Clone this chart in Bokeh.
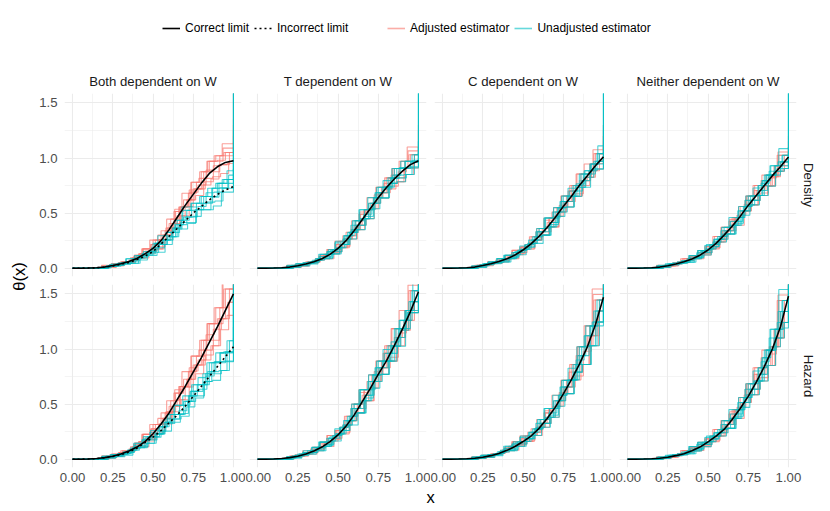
from bokeh.plotting import figure
from bokeh.layouts import row, column
from bokeh.models import (Range1d, FixedTicker, NumeralTickFormatter, Title,
                          Legend, LegendItem, Label)
from bokeh.embed import file_html
from bokeh.resources import INLINE

FONT = "Liberation Sans"
RED = "#F8766D"
CYAN = "#00BFC4"
EST_ALPHA = 0.7
DOTTED = "2 3"

COLUMNS = ["Both dependent on W", "T dependent on W", "C dependent on W", "Neither dependent on W"]
ROWS = ["Density", "Hazard"]
X_TICKS = [0.0, 0.25, 0.5, 0.75, 1.0]
X_MINOR = [0.125, 0.375, 0.625, 0.875]
Y_TICKS = [0.0, 0.5, 1.0, 1.5]
Y_MINOR = [0.25, 0.75, 1.25]

# ---- limit curves (at x = 0, 0.05, ..., 1) ----
LIMIT_X = [0.00, 0.05, 0.10, 0.15, 0.20, 0.25, 0.30, 0.35, 0.40, 0.45, 0.50,
           0.55, 0.60, 0.65, 0.70, 0.75, 0.80, 0.85, 0.90, 0.95, 1.00]
DENS_CORRECT = [
    [0, 0, .001, .004, .011, .024, .040, .060, .088, .13, .18, .25, .35, .46, .57, .67, .77, .86, .92, .96, .975],
    [0, 0, .001, .004, .010, .022, .038, .058, .085, .125, .18, .25, .34, .44, .54, .64, .73, .81, .88, .94, .975],
    [0, 0, .001, .004, .010, .024, .040, .060, .085, .12, .165, .22, .29, .37, .46, .56, .65, .75, .84, .93, 1.01],
    [0, 0, .001, .004, .010, .022, .038, .058, .083, .118, .165, .225, .30, .38, .47, .57, .66, .75, .84, .92, 1.01],
]
DENS_INCORRECT = [0, 0, .001, .004, .010, .020, .035, .052, .078, .11, .15, .22, .29, .36, .43, .50, .56, .62, .67, .71, .74]
HAZ_CORRECT = [
    [0, 0, .002, .006, .014, .027, .047, .075, .11, .16, .23, .32, .42, .54, .66, .79, .92, 1.06, 1.2, 1.35, 1.5],
    [0, 0, .002, .006, .014, .027, .047, .075, .11, .16, .22, .30, .40, .52, .64, .77, .89, 1.03, 1.18, 1.34, 1.52],
    [0, 0, .001, .004, .009, .018, .032, .052, .08, .115, .16, .21, .28, .37, .47, .59, .72, .86, 1.02, 1.22, 1.47],
    [0, 0, .001, .004, .009, .018, .032, .05, .077, .11, .157, .21, .27, .36, .46, .57, .70, .84, 1.0, 1.2, 1.48],
]
HAZ_INCORRECT = [0, 0, .002, .005, .013, .024, .04, .065, .10, .15, .20, .26, .33, .40, .48, .57, .66, .75, .84, .93, 1.02]

# ---- jump locations of the step estimates ----
GRID_A = [0.00, 0.20, 0.25, 0.30, 0.35, 0.40, 0.45, 0.50, 0.55, 0.60, 0.65, 0.70, 0.75, 0.80, 0.85, 0.90, 0.95, 1.00]
GRID_B = [0.00, 0.22, 0.27, 0.32, 0.37, 0.42, 0.47, 0.52, 0.57, 0.62, 0.67, 0.72, 0.77, 0.82, 0.87, 0.92, 0.97, 1.00]
GRID_C = [0.00, 0.18, 0.23, 0.28, 0.33, 0.38, 0.43, 0.48, 0.53, 0.58, 0.63, 0.68, 0.73, 0.78, 0.83, 0.88, 0.93, 1.00]
GRID_D = [0.00, 0.21, 0.26, 0.31, 0.36, 0.41, 0.46, 0.51, 0.56, 0.61, 0.66, 0.71, 0.76, 0.81, 0.86, 0.91, 0.96, 1.00]
GRID_E = [0.00, 0.19, 0.24, 0.29, 0.34, 0.39, 0.44, 0.49, 0.54, 0.59, 0.64, 0.69, 0.74, 0.79, 0.84, 0.89, 0.94, 1.00]
GRID_F = [0.00, 0.215, 0.265, 0.315, 0.365, 0.415, 0.465, 0.515, 0.565, 0.615, 0.665, 0.715, 0.765, 0.815, 0.865, 0.915, 0.965, 1.00]
GRID_G = [0.00, 0.185, 0.235, 0.285, 0.335, 0.385, 0.435, 0.485, 0.535, 0.585, 0.635, 0.685, 0.735, 0.785, 0.835, 0.885, 0.935, 1.00]
GRID_H = [0.00, 0.225, 0.275, 0.325, 0.375, 0.425, 0.475, 0.525, 0.575, 0.625, 0.675, 0.725, 0.775, 0.825, 0.875, 0.925, 0.975, 1.00]
GRIDS = [GRID_A, GRID_B, GRID_C, GRID_D, GRID_E, GRID_F, GRID_G, GRID_H]

# ---- step estimates: Density row (one list of curves per column) ----
DENS_ADJ = [
    [[0, .017, .042, .06, .074, .09, .155, .255, .34, .405, .475, .56, .72, .875, .97, .98, 1.05, 1.7],
     [0, .007, .022, .05, .094, .13, .155, .175, .26, .405, .555, .68, .78, .815, .83, .86, .97, 1.05],
     [0, .027, .032, .04, .054, .11, .175, .255, .30, .365, .515, .68, .69, .755, .89, 1.02, 1.13, 1.3],
     [0, .017, .032, .06, .094, .13, .135, .175, .30, .445, .555, .62, .72, .755, .81, .94, .95, 1.0],
     [0, .007, .042, .05, .054, .11, .175, .215, .26, .365, .515, .62, .78, .875, .97, 1.02, 1.05, 1.2],
     [0, .017, .022, .055, .074, .13, .145, .255, .30, .365, .555, .62, .66, .875, .875, 1.02, 1.02, 1.25],
     [0, .022, .032, .05, .054, .12, .175, .215, .26, .445, .535, .56, .78, .815, .97, .97, 1.09, 1.35],
     [0, .012, .037, .05, .094, .094, .155, .195, .34, .405, .475, .71, .72, .785, .93, .94, 1.05, 1.15]],
    [[0, .016, .04, .058, .072, .085, .15, .245, .325, .39, .45, .54, .685, .82, .905, .91, 1.03, 1.1],
     [0, .006, .02, .048, .087, .125, .15, .185, .265, .39, .53, .64, .735, .77, .785, .85, .96, 1.0],
     [0, .026, .03, .038, .057, .105, .17, .245, .295, .35, .49, .64, .64, .72, .845, .97, 1.1, 1.3],
     [0, .016, .03, .058, .087, .125, .13, .185, .295, .43, .53, .59, .685, .72, .785, .91, .91, 0.95],
     [0, .006, .04, .048, .057, .105, .17, .215, .265, .35, .49, .59, .735, .82, .905, .97, 1.03, 1.1],
     [0, .016, .02, .053, .072, .125, .14, .245, .295, .35, .53, .59, .635, .82, .82, .97, .97, 1.05],
     [0, .021, .03, .048, .057, .115, .17, .215, .265, .43, .51, .54, .735, .77, .905, .905, 1.065, 1.25],
     [0, .011, .035, .048, .087, .087, .15, .20, .325, .39, .45, .665, .685, .745, .875, .91, 1.03, 1.1]],
    [[0, .027, .027, .05, .087, .102, .122, .192, .285, .36, .415, .47, .605, .75, .795, .825, 1.04, 1.2],
     [0, .017, .042, .042, .072, .117, .162, .172, .255, .36, .375, .51, .655, .655, .795, .945, .97, 1.05],
     [0, .007, .032, .06, .072, .087, .162, .192, .225, .33, .455, .51, .555, .70, .855, .945, .95, 1.15],
     [0, .027, .042, .05, .057, .102, .142, .212, .255, .30, .455, .55, .605, .65, .855, .885, .9, 1.0],
     [0, .017, .022, .04, .087, .117, .142, .192, .285, .33, .375, .55, .655, .75, .75, .825, 1.04, 1.25],
     [0, .017, .022, .055, .072, .117, .132, .212, .255, .30, .455, .51, .555, .75, .75, .945, .97, 1.1],
     [0, .022, .032, .05, .057, .11, .162, .192, .225, .36, .435, .47, .655, .70, .855, .855, 1.075, 1.3],
     [0, .012, .037, .05, .087, .087, .142, .182, .285, .33, .375, .57, .605, .675, .825, .885, 1.04, 1.2]],
    [[0, .006, .02, .048, .085, .115, .14, .175, .237, .34, .46, .56, .655, .705, .745, .83, .965, 1.05],
     [0, .016, .03, .058, .085, .115, .12, .175, .262, .37, .46, .52, .615, .66, .745, .88, .905, 0.95],
     [0, .026, .026, .048, .085, .10, .12, .195, .287, .37, .425, .48, .615, .75, .795, .83, 1.025, 1.15],
     [0, .006, .03, .058, .07, .085, .16, .195, .237, .34, .46, .52, .575, .705, .845, .93, .93, 1.0],
     [0, .016, .02, .038, .085, .115, .14, .195, .287, .34, .39, .56, .655, .75, .75, .83, 1.025, 1.1],
     [0, .016, .02, .053, .07, .115, .13, .215, .262, .31, .46, .52, .575, .75, .75, .93, .965, 1.05],
     [0, .021, .03, .048, .055, .108, .16, .195, .237, .37, .443, .48, .655, .705, .845, .845, 1.055, 1.2],
     [0, .011, .035, .048, .085, .085, .14, .185, .287, .34, .39, .58, .615, .683, .82, .88, 1.025, 1.1]],
]
DENS_UNADJ = [
    [[0, .025, .028, .034, .045, .094, .15, .225, .255, .285, .395, .525, .53, .53, .645, .77, .885, 1.8],
     [0, .005, .038, .044, .045, .094, .15, .185, .215, .285, .395, .465, .59, .65, .725, .77, .805, 0.9],
     [0, .015, .038, .054, .065, .074, .13, .225, .295, .325, .355, .405, .53, .65, .725, .73, .805, 1.1],
     [0, .005, .018, .044, .085, .114, .13, .145, .215, .325, .435, .525, .59, .59, .6, .61, .725, 0.85],
     [0, .015, .028, .054, .085, .114, .115, .145, .255, .365, .435, .465, .53, .53, .565, .69, .69, 1.8],
     [0, .015, .018, .049, .065, .114, .12, .225, .255, .285, .435, .465, .47, .65, .65, .77, .77, 0.95],
     [0, .02, .028, .044, .045, .104, .15, .185, .215, .365, .415, .415, .59, .59, .725, .725, .845, 1.8],
     [0, .01, .033, .044, .085, .085, .13, .165, .295, .325, .355, .555, .555, .56, .685, .69, .805, 0.9]],
    [[0, .026, .027, .048, .087, .105, .13, .215, .325, .43, .49, .54, .685, .82, .845, .85, 1.03, 1.8],
     [0, .016, .04, .04, .072, .125, .17, .185, .295, .43, .45, .59, .735, .74, .845, .97, .97, 1.05],
     [0, .006, .03, .058, .072, .085, .17, .215, .265, .39, .53, .59, .635, .77, .905, .97, .98, 1.0],
     [0, .026, .04, .048, .057, .105, .15, .245, .295, .35, .53, .64, .685, .72, .905, .91, .92, 1.8],
     [0, .016, .02, .038, .087, .125, .15, .215, .325, .39, .45, .64, .735, .82, .82, .85, 1.03, 1.15],
     [0, .016, .04, .043, .072, .085, .16, .185, .295, .43, .45, .59, .735, .735, .905, .905, .96, 1.8],
     [0, .011, .03, .048, .087, .095, .13, .215, .325, .35, .47, .64, .64, .77, .785, .97, .97, 1.05],
     [0, .021, .025, .048, .057, .125, .15, .23, .265, .39, .53, .53, .685, .795, .815, .91, .91, 1.15]],
    [[0, .017, .042, .06, .072, .087, .142, .212, .285, .33, .375, .47, .605, .75, .855, .885, 1.04, 1.8],
     [0, .007, .022, .05, .087, .117, .142, .172, .225, .33, .455, .55, .655, .70, .735, .825, .97, 1.1],
     [0, .027, .032, .04, .057, .102, .162, .212, .255, .30, .415, .55, .555, .65, .795, .945, 1.11, 1.3],
     [0, .017, .032, .06, .087, .117, .122, .172, .255, .36, .455, .51, .605, .65, .735, .885, .9, 1.0],
     [0, .007, .042, .05, .057, .102, .162, .192, .225, .30, .415, .51, .655, .75, .855, .945, 1.04, 1.8],
     [0, .017, .042, .045, .072, .087, .152, .172, .255, .36, .375, .51, .655, .655, .855, .855, .97, 1.8],
     [0, .012, .032, .05, .087, .095, .122, .192, .285, .30, .395, .55, .555, .70, .735, .945, .945, 1.05],
     [0, .022, .027, .05, .057, .117, .142, .202, .225, .33, .455, .455, .605, .725, .765, .885, .90, 1.0]],
    [[0, .016, .04, .058, .07, .085, .14, .215, .287, .34, .39, .48, .615, .75, .845, .88, 1.025, 1.8],
     [0, .026, .03, .038, .055, .10, .16, .215, .262, .31, .425, .56, .575, .66, .795, .93, 1.085, 1.1],
     [0, .006, .04, .048, .055, .10, .16, .195, .237, .31, .425, .52, .655, .75, .845, .93, 1.025, 1.8],
     [0, .016, .04, .04, .07, .115, .16, .175, .262, .37, .39, .52, .655, .66, .795, .93, .965, 1.0],
     [0, .026, .04, .048, .055, .10, .14, .215, .262, .31, .46, .56, .615, .66, .845, .88, .905, 1.05],
     [0, .016, .04, .043, .07, .085, .15, .175, .262, .37, .39, .52, .655, .66, .845, .845, .965, 1.8],
     [0, .011, .03, .048, .085, .093, .12, .195, .287, .31, .408, .56, .575, .705, .745, .93, .93, 1.0],
     [0, .021, .025, .048, .055, .115, .14, .205, .237, .34, .46, .46, .615, .728, .77, .88, .905, 1.05]],
]

# ---- step estimates: Hazard row (one list of curves per column) ----
HAZ_ADJ = [
    [[0, .02, .047, .076, .092, .11, .195, .315, .42, .48, .54, .655, .855, 1.08, 1.23, 1.275, 1.545, 1.8],
     [0, .01, .027, .061, .112, .16, .195, .235, .32, .48, .66, .795, .935, .99, 1.03, 1.175, 1.425, 1.6],
     [0, .03, .037, .046, .072, .135, .225, .315, .37, .43, .60, .795, .80, .9, 1.13, 1.375, 1.665, 1.8],
     [0, .02, .037, .076, .112, .16, .165, .235, .37, .53, .66, .725, .855, .9, 1.03, 1.275, 1.305, 1.5],
     [0, .01, .047, .061, .072, .135, .225, .275, .32, .43, .60, .725, .935, 1.08, 1.23, 1.375, 1.545, 1.8],
     [0, .02, .027, .069, .092, .16, .18, .315, .37, .43, .66, .725, .775, 1.08, 1.08, 1.375, 1.425, 1.8],
     [0, .025, .037, .061, .072, .148, .225, .275, .32, .53, .63, .655, .935, .99, 1.23, 1.23, 1.605, 1.8],
     [0, .015, .042, .061, .112, .112, .195, .255, .42, .48, .54, .83, .855, .945, 1.18, 1.275, 1.545, 1.7]],
    [[0, .03, .03, .061, .107, .135, .165, .26, .39, .50, .58, .645, .83, 1.03, 1.105, 1.17, 1.53, 1.8],
     [0, .02, .047, .047, .092, .155, .215, .23, .35, .50, .53, .705, .89, .89, 1.105, 1.35, 1.43, 1.6],
     [0, .01, .037, .076, .092, .115, .215, .26, .31, .46, .63, .705, .77, .96, 1.185, 1.35, 1.35, 1.5],
     [0, .03, .047, .061, .077, .135, .19, .29, .35, .42, .63, .765, .83, .89, 1.185, 1.26, 1.33, 1.45],
     [0, .02, .027, .046, .107, .155, .19, .26, .39, .46, .53, .765, .89, 1.03, 1.03, 1.17, 1.53, 1.8],
     [0, .02, .027, .069, .092, .155, .178, .29, .35, .42, .63, .705, .77, 1.03, 1.03, 1.35, 1.43, 1.8],
     [0, .025, .037, .061, .077, .145, .215, .26, .31, .50, .605, .645, .89, .96, 1.185, 1.185, 1.58, 1.8],
     [0, .015, .042, .061, .107, .115, .19, .245, .39, .46, .53, .795, .83, .925, 1.145, 1.26, 1.53, 1.6]],
    [[0, .014, .035, .052, .066, .078, .138, .21, .275, .325, .38, .48, .655, .86, 1.02, 1.12, 1.445, 1.7],
     [0, .006, .015, .042, .081, .118, .138, .16, .215, .325, .46, .58, .715, .79, .86, 1.03, 1.345, 1.5],
     [0, .022, .025, .032, .051, .098, .158, .21, .245, .29, .42, .58, .595, .72, .94, 1.21, 1.545, 1.8],
     [0, .014, .025, .052, .081, .118, .118, .16, .245, .36, .46, .53, .655, .72, .86, 1.12, 1.245, 1.4],
     [0, .006, .035, .042, .051, .098, .158, .185, .215, .29, .42, .53, .715, .86, 1.02, 1.21, 1.445, 1.6],
     [0, .014, .015, .047, .066, .118, .128, .21, .245, .29, .46, .53, .595, .86, .86, 1.21, 1.345, 1.7],
     [0, .018, .025, .042, .051, .108, .158, .185, .215, .36, .44, .48, .715, .79, 1.02, 1.03, 1.495, 1.8],
     [0, .01, .03, .042, .081, .081, .138, .173, .275, .325, .38, .605, .655, .755, .98, 1.12, 1.445, 1.55]],
    [[0, .006, .015, .041, .079, .114, .134, .159, .21, .315, .45, .56, .685, .77, .85, 1.02, 1.34, 1.5],
     [0, .014, .025, .051, .079, .114, .114, .159, .24, .35, .45, .515, .635, .71, .85, 1.1, 1.24, 1.4],
     [0, .022, .022, .041, .079, .094, .114, .184, .27, .35, .41, .47, .635, .83, .92, 1.02, 1.44, 1.7],
     [0, .006, .025, .051, .064, .074, .154, .184, .21, .315, .45, .515, .585, .77, .99, 1.18, 1.24, 1.45],
     [0, .014, .015, .031, .079, .114, .134, .184, .27, .315, .37, .56, .685, .83, .85, 1.02, 1.44, 1.6],
     [0, .014, .015, .046, .064, .114, .124, .209, .24, .28, .45, .515, .585, .83, .85, 1.18, 1.34, 1.6],
     [0, .018, .025, .041, .049, .104, .154, .184, .21, .35, .43, .47, .685, .77, .99, 1.02, 1.49, 1.8],
     [0, .01, .03, .041, .079, .079, .134, .172, .27, .315, .37, .583, .635, .74, .955, 1.1, 1.44, 1.55]],
]
HAZ_UNADJ = [
    [[0, .028, .028, .052, .102, .125, .145, .23, .335, .405, .44, .475, .615, .775, .795, .805, 1.075, 1.8],
     [0, .018, .042, .042, .082, .145, .205, .205, .295, .405, .405, .525, .675, .675, .795, .965, .975, 1.3],
     [0, .008, .032, .067, .082, .105, .205, .23, .255, .365, .49, .525, .555, .705, .875, .965, .97, 1.8],
     [0, .028, .042, .052, .062, .125, .175, .26, .295, .325, .49, .575, .615, .635, .875, .885, .89, 1.2],
     [0, .018, .022, .037, .102, .145, .175, .23, .335, .365, .39, .575, .675, .775, .775, .805, 1.075, 1.5],
     [0, .018, .042, .045, .082, .105, .19, .20, .295, .405, .405, .525, .675, .675, .875, .875, .975, 1.5],
     [0, .013, .032, .052, .102, .115, .145, .23, .335, .335, .415, .575, .575, .705, .715, .965, .965, 1.8],
     [0, .023, .027, .052, .062, .145, .175, .245, .255, .365, .49, .49, .615, .74, .755, .885, .885, 1.1]],
    [[0, .02, .047, .076, .092, .115, .19, .29, .39, .46, .53, .645, .83, 1.03, 1.185, 1.26, 1.53, 1.8],
     [0, .01, .027, .061, .107, .155, .19, .23, .31, .46, .63, .765, .89, .96, 1.025, 1.17, 1.43, 1.55],
     [0, .03, .037, .046, .077, .135, .215, .29, .35, .42, .58, .765, .77, .89, 1.105, 1.35, 1.63, 1.8],
     [0, .02, .037, .076, .107, .155, .165, .23, .35, .50, .63, .705, .83, .89, 1.025, 1.26, 1.33, 1.45],
     [0, .01, .047, .061, .077, .135, .215, .26, .31, .42, .58, .705, .89, 1.03, 1.185, 1.35, 1.53, 1.7],
     [0, .02, .047, .054, .092, .115, .203, .23, .35, .50, .53, .705, .89, .89, 1.185, 1.185, 1.43, 1.7],
     [0, .015, .037, .061, .107, .125, .165, .26, .39, .42, .555, .765, .77, .96, 1.025, 1.35, 1.35, 1.8],
     [0, .025, .032, .061, .077, .155, .19, .275, .31, .46, .63, .63, .83, .995, 1.065, 1.26, 1.33, 1.5]],
    [[0, .022, .022, .042, .081, .098, .118, .185, .275, .36, .42, .48, .655, .86, .94, 1.03, 1.445, 1.8],
     [0, .014, .035, .035, .066, .118, .158, .16, .245, .36, .38, .53, .715, .72, .94, 1.21, 1.345, 1.5],
     [0, .006, .025, .052, .066, .078, .158, .185, .215, .325, .46, .53, .595, .79, 1.02, 1.21, 1.245, 1.45],
     [0, .022, .035, .042, .051, .098, .138, .21, .245, .29, .46, .58, .655, .72, 1.02, 1.12, 1.245, 1.6],
     [0, .014, .015, .032, .081, .118, .138, .185, .275, .325, .38, .58, .715, .86, .86, 1.03, 1.445, 1.8],
     [0, .014, .035, .037, .066, .078, .148, .16, .245, .36, .38, .53, .715, .72, 1.02, 1.03, 1.345, 1.5],
     [0, .01, .025, .042, .081, .088, .118, .185, .275, .29, .40, .58, .595, .79, .86, 1.21, 1.21, 1.8],
     [0, .018, .02, .042, .051, .118, .138, .198, .215, .325, .46, .46, .655, .825, .90, 1.12, 1.245, 1.4]],
    [[0, .014, .035, .051, .064, .074, .134, .209, .27, .315, .37, .47, .635, .83, .99, 1.1, 1.44, 1.7],
     [0, .022, .025, .031, .049, .094, .154, .209, .24, .28, .41, .56, .585, .71, .92, 1.18, 1.54, 1.8],
     [0, .006, .035, .041, .049, .094, .154, .184, .21, .28, .41, .515, .685, .83, .99, 1.18, 1.44, 1.6],
     [0, .014, .035, .035, .064, .114, .154, .159, .24, .35, .37, .515, .685, .71, .92, 1.18, 1.34, 1.5],
     [0, .022, .035, .041, .049, .094, .134, .209, .24, .28, .45, .56, .635, .71, .99, 1.1, 1.24, 1.45],
     [0, .014, .035, .036, .064, .074, .144, .159, .24, .35, .37, .515, .685, .71, .99, 1.02, 1.34, 1.5],
     [0, .01, .025, .041, .079, .084, .114, .184, .27, .28, .39, .56, .585, .77, .85, 1.18, 1.19, 1.7],
     [0, .018, .02, .041, .049, .114, .134, .197, .21, .315, .45, .45, .635, .80, .885, 1.1, 1.24, 1.45]],
]

ADJ = [DENS_ADJ, HAZ_ADJ]
UNADJ = [DENS_UNADJ, HAZ_UNADJ]
CORRECT = [DENS_CORRECT, HAZ_CORRECT]
INCORRECT = [DENS_INCORRECT, HAZ_INCORRECT]

FRAME_W, FRAME_H = 177, 183
GRID_COLOR = "#EBEBEB"


def style_axis(ax, fmt, ticks, standoff):
    ax.ticker = FixedTicker(ticks=ticks)
    ax.formatter = NumeralTickFormatter(format=fmt)
    ax.axis_line_color = None
    ax.major_tick_line_color = None
    ax.minor_tick_line_color = None
    ax.major_tick_out = 0
    ax.major_tick_in = 0
    ax.minor_tick_out = 0
    ax.minor_tick_in = 0
    ax.major_label_text_font = FONT
    ax.major_label_text_font_size = "13.2px"
    ax.major_label_text_color = "#4D4D4D"
    ax.major_label_standoff = standoff


def make_panel(r, c):
    p = figure(frame_width=FRAME_W, frame_height=FRAME_H,
               x_range=Range1d(-0.05, 1.05), y_range=Range1d(-0.0755, 1.5855),
               x_axis_location="below" if r == 1 else None,
               y_axis_location="left" if c == 0 else None,
               toolbar_location=None, output_backend="svg",
               min_border_left=34 if c == 0 else 4,
               min_border_right=25 if c == 3 else 4,
               min_border_top=28 if r == 0 else 4,
               min_border_bottom=22 if r == 1 else 4,
               outline_line_color=None,
               background_fill_color="white", border_fill_color="white")
    p.xgrid.ticker = FixedTicker(ticks=X_TICKS, minor_ticks=X_MINOR)
    p.ygrid.ticker = FixedTicker(ticks=Y_TICKS, minor_ticks=Y_MINOR)
    for g in (p.xgrid, p.ygrid):
        g.grid_line_color = GRID_COLOR
        g.grid_line_width = 1.1
        g.minor_grid_line_color = GRID_COLOR
        g.minor_grid_line_width = 0.55
    if r == 1:
        style_axis(p.xaxis[0], "0.00", X_TICKS, 5)
    if c == 0:
        style_axis(p.yaxis[0], "0.0", Y_TICKS, 7)

    for k, vals in enumerate(ADJ[r][c]):
        p.step(GRIDS[k], vals, mode="after", line_color=RED, line_alpha=EST_ALPHA, line_width=1.1)
    for k, vals in enumerate(UNADJ[r][c]):
        p.step(GRIDS[(k + 3) % 8], vals, mode="after", line_color=CYAN, line_alpha=EST_ALPHA, line_width=1.1)
    p.line(LIMIT_X, CORRECT[r][c], line_color="black", line_width=1.6)
    if c == 0:
        p.line(LIMIT_X, INCORRECT[r], line_color="black", line_width=1.6, line_dash=DOTTED)

    if r == 0:
        p.add_layout(Title(text=COLUMNS[c], align="center", text_font=FONT,
                           text_font_size="13.2px", text_font_style="normal",
                           text_color="#1A1A1A", standoff=9), "above")
    if c == 3:
        p.add_layout(Title(text=ROWS[r], align="center", text_font=FONT,
                           text_font_size="13.2px", text_font_style="normal",
                           text_color="#1A1A1A", standoff=9), "right")
    return p


def blank(w, h, xr=(0, 1), yr=(0, 1)):
    p = figure(frame_width=w, frame_height=h, min_border=0,
               x_range=Range1d(*xr), y_range=Range1d(*yr),
               x_axis_location=None, y_axis_location=None,
               toolbar_location=None, output_backend="svg",
               outline_line_color=None)
    p.grid.visible = False
    return p


panels = [[make_panel(r, c) for c in range(4)] for r in range(2)]

# legend strip: key renderers draw the limit curves outside this strip's visible range
leg = blank(821, 65, xr=(0, 1), yr=(5, 6))
r_cor = leg.line(LIMIT_X, DENS_CORRECT[0], line_color="black", line_width=1.6)
r_inc = leg.line(LIMIT_X, DENS_INCORRECT, line_color="black", line_width=1.6, line_dash=DOTTED)
r_adj = leg.line(LIMIT_X, DENS_CORRECT[0], line_color=RED, line_alpha=0.6, line_width=1.6)
r_una = leg.line(LIMIT_X, DENS_INCORRECT, line_color=CYAN, line_alpha=0.6, line_width=1.6)


def make_legend(items, loc):
    lg = Legend(items=items, location=loc, orientation="horizontal",
                padding=0, margin=0, spacing=5, label_standoff=5,
                glyph_width=18, glyph_height=16, label_height=16,
                label_text_font=FONT, label_text_font_size="12px",
                label_text_color="black", border_line_color=None,
                background_fill_alpha=0)
    leg.add_layout(lg)


make_legend([LegendItem(label="Correct limit", renderers=[r_cor]),
             LegendItem(label="Incorrect limit", renderers=[r_inc])], (162, 29))
make_legend([LegendItem(label="Adjusted estimator", renderers=[r_adj]),
             LegendItem(label="Unadjusted estimator", renderers=[r_una])], (387, 29))

# y title
ylab = blank(30, 424)
ylab.add_layout(Label(x=18, y=213, x_units="screen", y_units="screen", text="θ(x)",
                      angle=1.5708, text_align="center", text_baseline="middle",
                      text_font=FONT, text_font_size="16.5px", text_color="black"))
# x title
xlab = blank(821, 22)
xlab.add_layout(Label(x=430, y=15, x_units="screen", y_units="screen", text="x",
                      text_align="center", text_baseline="middle",
                      text_font=FONT, text_font_size="16.5px", text_color="black"))

grid_block = column(row(*panels[0]), row(*panels[1]))
layout = column(leg, row(ylab, grid_block), xlab)

open("out.html", "w").write(file_html(layout, INLINE))
